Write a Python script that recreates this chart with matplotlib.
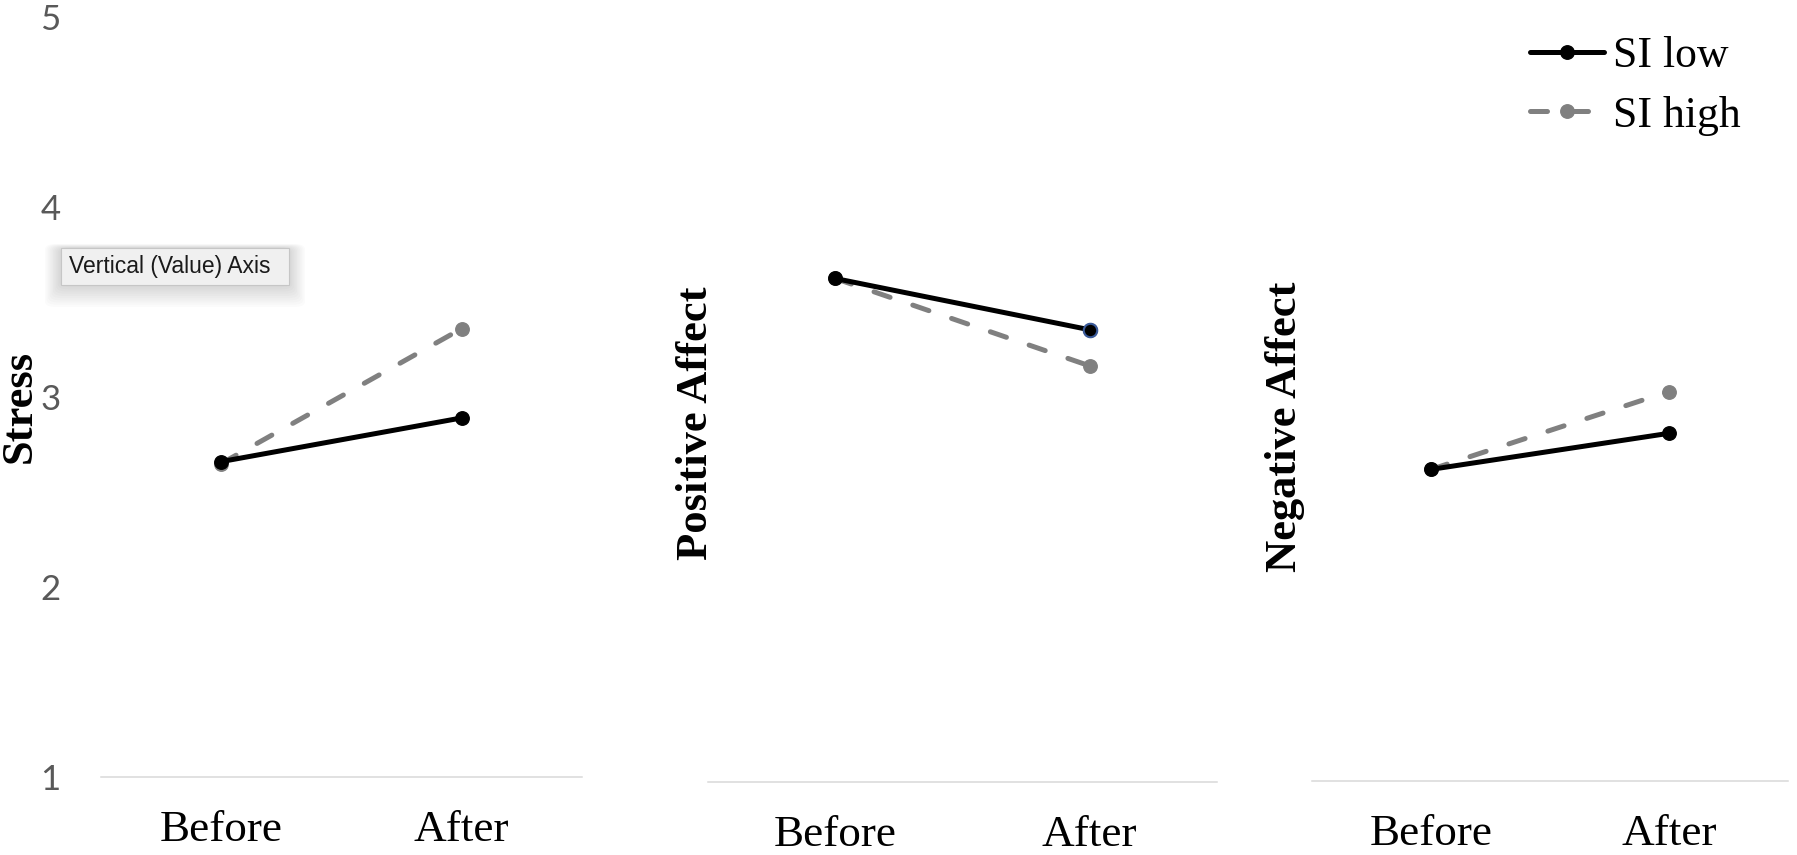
import matplotlib
matplotlib.use("Agg")
import matplotlib.pyplot as plt
from matplotlib.patches import FancyBboxPatch

# ---- data ----
times = ["Before", "After"]
series = ["SI low", "SI high"]

stress_low = [2.66, 2.89]
stress_high = [2.65, 3.36]
pos_low = [3.65, 3.38]
pos_high = [3.65, 3.19]
neg_low = [2.64, 2.83]
neg_high = [2.64, 3.05]

panel_titles = ["Stress", "Positive Affect", "Negative Affect"]
y_ticks = [1, 2, 3, 4, 5]

SERIF = "Liberation Serif"
LOW_C = "black"
HIGH_C = "#808080"
AXIS_C = "#d9d9d9"
LW = 3.6
MS = 9.7

fig = plt.figure(figsize=(17.97, 8.55), dpi=100)
W, H = 1797.0, 855.0


def px_axes(x0, x1, y_one, y_five):
    # axes box from pixel positions (top-left origin)
    return fig.add_axes([x0 / W, 1 - y_one / H, (x1 - x0) / W, (y_one - y_five) / H])


axes = [
    px_axes(101, 582, 777, 17),
    px_axes(708, 1217, 782, 22),
    px_axes(1312, 1788, 781, 21),
]
data = [(stress_low, stress_high), (pos_low, pos_high), (neg_low, neg_high)]

x = list(range(len(times)))
handles = []
for i, (ax, (low, high)) in enumerate(zip(axes, data)):
    h1, = ax.plot(x, low, color=LOW_C, lw=LW, marker="o", ms=MS,
                  solid_capstyle="round", zorder=3)
    h2, = ax.plot(x, high, color=HIGH_C, lw=LW, marker="o", ms=MS,
                  dashes=(3.4, 4.8), dash_capstyle="round", zorder=2)
    if i == 1:
        # selected point has a bluish rim in the screenshot
        ax.plot(x[1], low[1], marker="o", ms=MS, color=LOW_C,
                mec="#3b5b9b", mew=1.5, zorder=4)
    handles = [h1, h2]

    ax.set_xlim(-0.5, 1.5)
    ax.set_ylim(1, 5)
    ax.set_xticks(x)
    ax.set_xticklabels(times, fontfamily=SERIF, fontsize=32.5)
    ax.tick_params(axis="x", length=0, pad=24)
    for s in ["top", "right", "left"]:
        ax.spines[s].set_visible(False)
    ax.spines["bottom"].set_color(AXIS_C)
    ax.spines["bottom"].set_linewidth(1.1)
    ax.patch.set_alpha(0)
    if i == 0:
        ax.set_yticks(y_ticks)
        ax.set_yticklabels([str(t) for t in y_ticks], fontfamily="Lato",
                           fontsize=25, color="#595959")
        ax.tick_params(axis="y", length=0, pad=29)
    else:
        ax.set_yticks([])

# y labels placed as in the screenshot
label_pos = [(20, 406), (696, 423), (1285, 427)]
for txt, (px, py) in zip(panel_titles, label_pos):
    fig.text(px / W, 1 - py / H, txt, rotation=90, ha="center", va="center",
             fontfamily=SERIF, fontweight="bold", fontsize=32)

# legend, top right
fig.legend(handles, series, loc="upper left", bbox_to_anchor=(1530 / W, 1 - 36 / H),
           frameon=False, prop={"family": SERIF, "size": 31.5},
           handlelength=1.7, handletextpad=0.2, labelspacing=0.45,
           borderpad=0, borderaxespad=0)

# the "Vertical (Value) Axis" tooltip with a soft shadow
bx0, by0, bx1, by1 = 61, 248, 289, 285
for k in range(10, 0, -1):
    fig.add_artist(FancyBboxPatch(
        ((bx0 - k * 1.6) / W, 1 - (by1 + k * 2.2) / H),
        (bx1 - bx0 + k * 3.2) / W, (by1 - by0 + k * 2.6) / H,
        boxstyle="round,pad=0,rounding_size=0.006", transform=fig.transFigure,
        facecolor="black", edgecolor="none", alpha=0.014, zorder=5))
fig.add_artist(FancyBboxPatch(
    (bx0 / W, 1 - by1 / H), (bx1 - bx0) / W, (by1 - by0) / H,
    boxstyle="square,pad=0", transform=fig.transFigure,
    facecolor="#f0f0f0", edgecolor="#c6c6c6", lw=0.8, zorder=6))
fig.text(69 / W, 1 - 266.5 / H, "Vertical (Value) Axis", ha="left", va="center",
         fontfamily="Liberation Sans", fontsize=16.5, color="#1a1a1a", zorder=7)

fig.savefig("out.png", dpi=100)
